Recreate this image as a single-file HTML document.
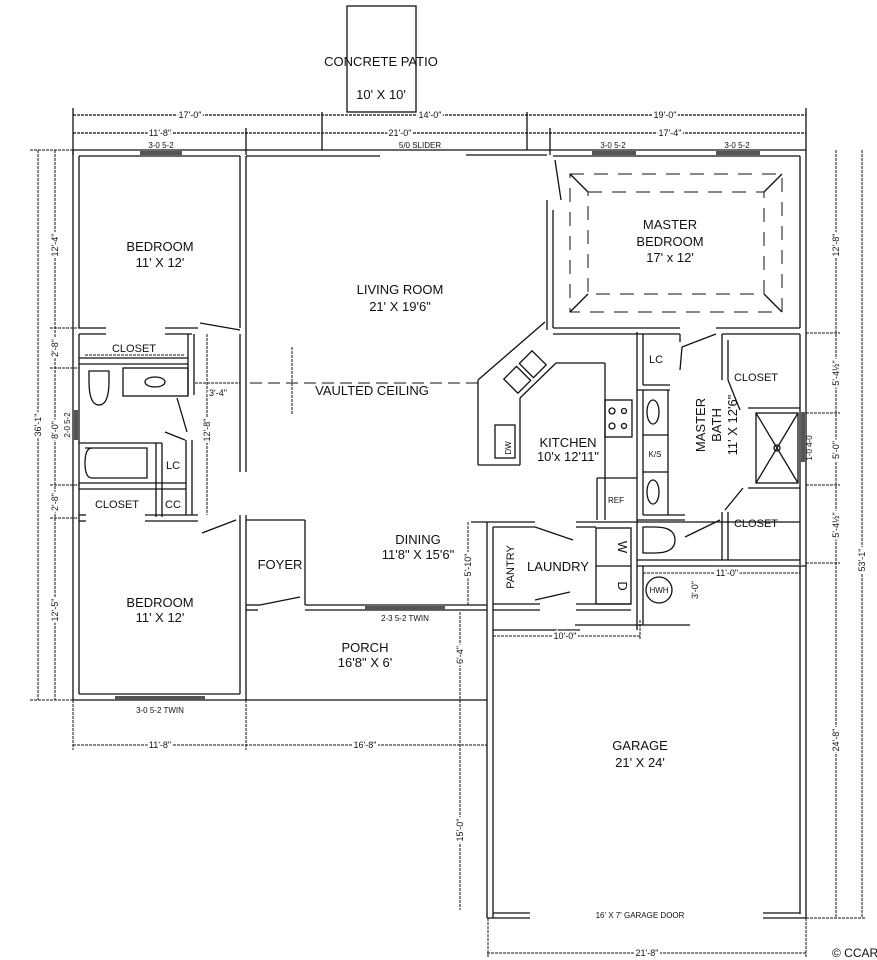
<!DOCTYPE html>
<html><head><meta charset="utf-8"><style>
html,body{margin:0;padding:0;background:#fff}
svg{display:block}
text{font-family:"Liberation Sans",sans-serif;fill:#111}
.r{font-size:13px;text-anchor:middle}
.s{font-size:8px;text-anchor:middle}
.d{font-size:9px;text-anchor:middle;stroke:#fff;stroke-width:4px;paint-order:stroke;stroke-dasharray:none}
</style></head><body>
<svg width="877" height="960" viewBox="0 0 877 960" xmlns="http://www.w3.org/2000/svg">
<g stroke="#111" fill="none" stroke-width="1.3">
<rect x="347" y="6" width="69" height="106" fill="#fff"/>
<line x1="73" y1="115" x2="806" y2="115" stroke-dasharray="3 1"/>
<line x1="73" y1="133" x2="806" y2="133" stroke-dasharray="3 1"/>
<line x1="73" y1="108" x2="73" y2="155"/><line x1="322" y1="112" x2="322" y2="150"/>
<line x1="527" y1="112" x2="527" y2="150"/><line x1="806" y1="108" x2="806" y2="150"/>
<line x1="246" y1="128" x2="246" y2="155"/><line x1="550" y1="128" x2="550" y2="155"/>
<line x1="73" y1="150" x2="806" y2="150"/>
<line x1="79" y1="156" x2="240" y2="156"/>
<line x1="246" y1="156" x2="380" y2="156"/><line x1="466" y1="155" x2="547" y2="155"/>
<line x1="553" y1="156" x2="800" y2="156"/>
<line x1="73" y1="150" x2="73" y2="700"/><line x1="79" y1="156" x2="79" y2="328"/>
<line x1="79" y1="334" x2="79" y2="694"/>
<line x1="806" y1="150" x2="806" y2="918"/><line x1="800" y1="156" x2="800" y2="328"/>
<line x1="800" y1="334" x2="800" y2="565"/>
<line x1="73" y1="700" x2="487" y2="700"/><line x1="79" y1="694" x2="240" y2="694"/>
<line x1="240" y1="156" x2="240" y2="328"/><line x1="246" y1="156" x2="246" y2="472"/>
<line x1="240" y1="334" x2="240" y2="472"/>
<line x1="79" y1="328" x2="106" y2="328"/><line x1="79" y1="334" x2="106" y2="334"/>
<line x1="165" y1="328" x2="198" y2="328"/><line x1="165" y1="334" x2="192" y2="334"/>
<line x1="200" y1="323" x2="240" y2="330"/>
<line x1="79" y1="358" x2="188" y2="358"/><line x1="79" y1="364" x2="188" y2="364"/>
<line x1="188" y1="334" x2="188" y2="395"/><line x1="194" y1="334" x2="194" y2="395"/>
<rect x="123" y="368" width="65" height="28"/><ellipse cx="155" cy="382" rx="10" ry="5"/>
<path d="M89 371 h20 v10 q0 24 -10 24 q-10 0 -10 -24 z"/>
<line x1="177" y1="398" x2="187" y2="432"/><line x1="165" y1="432" x2="185" y2="440"/>
<line x1="186" y1="440" x2="186" y2="515"/><line x1="192" y1="440" x2="192" y2="515"/>
<line x1="79" y1="443" x2="162" y2="443"/><line x1="79" y1="483" x2="186" y2="483"/>
<line x1="79" y1="489" x2="186" y2="489"/>
<line x1="156" y1="443" x2="156" y2="517"/><line x1="162" y1="443" x2="162" y2="517"/>
<path d="M85 448 h62 v30 h-55 q-7 0 -7 -15 q0 -15 7 -15"/>
<line x1="79" y1="515" x2="86" y2="515"/><line x1="79" y1="521" x2="86" y2="521"/>
<line x1="145" y1="515" x2="198" y2="515"/><line x1="145" y1="521" x2="198" y2="521"/>
<line x1="240" y1="515" x2="240" y2="694"/><line x1="246" y1="515" x2="246" y2="700"/>
<line x1="202" y1="533" x2="236" y2="520"/>
<line x1="246" y1="520" x2="305" y2="520"/><line x1="305" y1="520" x2="305" y2="605"/>
<line x1="246" y1="605" x2="260" y2="605"/><line x1="246" y1="610" x2="258" y2="610"/>
<line x1="260" y1="605" x2="300" y2="597"/>
<line x1="305" y1="605" x2="487" y2="605"/><line x1="305" y1="610" x2="487" y2="610"/>
<line x1="471" y1="522" x2="535" y2="522"/><line x1="487" y1="522" x2="487" y2="918"/>
<line x1="493" y1="527" x2="493" y2="918"/><line x1="493" y1="527" x2="535" y2="527"/>
<line x1="535" y1="527" x2="573" y2="540"/><line x1="535" y1="600" x2="570" y2="592"/>
<line x1="493" y1="604" x2="540" y2="604"/><line x1="493" y1="610" x2="540" y2="610"/>
<line x1="576" y1="522" x2="800" y2="522"/><line x1="576" y1="527" x2="596" y2="527"/>
<rect x="596" y="528" width="35" height="76"/><line x1="596" y1="566" x2="631" y2="566"/>
<line x1="576" y1="604" x2="631" y2="604"/><line x1="576" y1="610" x2="631" y2="610"/>
<line x1="547" y1="200" x2="547" y2="330"/><line x1="553" y1="210" x2="553" y2="328"/>
<line x1="555" y1="160" x2="561" y2="200"/>
<line x1="553" y1="328" x2="680" y2="328"/><line x1="553" y1="334" x2="680" y2="334"/>
<line x1="716" y1="328" x2="800" y2="328"/><line x1="722" y1="334" x2="800" y2="334"/>
<line x1="545" y1="322" x2="478" y2="380"/><line x1="478" y1="380" x2="478" y2="465"/>
<line x1="478" y1="465" x2="520" y2="465"/><line x1="520" y1="465" x2="520" y2="398"/>
<line x1="520" y1="398" x2="556" y2="363"/><line x1="556" y1="363" x2="605" y2="363"/>
<line x1="605" y1="363" x2="605" y2="520"/><line x1="597" y1="478" x2="637" y2="478"/>
<line x1="597" y1="478" x2="597" y2="520"/>
<rect x="605" y="400" width="27" height="37"/>
<circle cx="612" cy="411" r="3"/><circle cx="624" cy="411" r="2.5"/><circle cx="612" cy="426" r="3"/><circle cx="624" cy="426" r="2.5"/>
<g transform="rotate(-45 525 372)"><rect x="505" y="362" width="18" height="20"/><rect x="527" y="362" width="18" height="20"/></g>
<rect x="495" y="425" width="20" height="33"/>
<line x1="637" y1="332" x2="637" y2="520"/><line x1="643" y1="334" x2="643" y2="385"/>
<line x1="643" y1="385" x2="670" y2="385"/><line x1="637" y1="390" x2="670" y2="390"/>
<line x1="643" y1="390" x2="643" y2="515"/><line x1="668" y1="390" x2="668" y2="515"/>
<line x1="643" y1="435" x2="668" y2="435"/><line x1="643" y1="472" x2="668" y2="472"/>
<ellipse cx="653" cy="412" rx="6" ry="12"/><ellipse cx="653" cy="492" rx="6" ry="12"/>
<line x1="643" y1="515" x2="685" y2="515"/><line x1="637" y1="520" x2="685" y2="520"/>
<line x1="680" y1="334" x2="680" y2="342"/><line x1="682" y1="347" x2="680" y2="370"/>
<line x1="682" y1="347" x2="716" y2="334"/>
<line x1="722" y1="334" x2="722" y2="380"/><line x1="728" y1="340" x2="728" y2="380"/>
<line x1="728" y1="380" x2="740" y2="410"/>
<rect x="756" y="413" width="42" height="70"/><line x1="756" y1="413" x2="798" y2="483"/><line x1="798" y1="413" x2="756" y2="483"/>
<circle cx="777" cy="448" r="3"/>
<line x1="748" y1="408" x2="800" y2="408"/><line x1="748" y1="488" x2="800" y2="488"/>
<line x1="743" y1="488" x2="725" y2="510"/>
<line x1="722" y1="512" x2="722" y2="560"/><line x1="728" y1="512" x2="728" y2="560"/>
<line x1="685" y1="537" x2="720" y2="520"/>
<path d="M643 527 h12 q20 0 20 13 q0 13 -20 13 h-12 z"/>
<line x1="637" y1="560" x2="800" y2="560"/><line x1="637" y1="566" x2="806" y2="566"/>
<line x1="637" y1="520" x2="637" y2="630"/><line x1="643" y1="566" x2="643" y2="625"/>
<circle cx="659" cy="590" r="13"/>
<line x1="575" y1="625" x2="690" y2="625"/><line x1="493" y1="630" x2="580" y2="630"/>
<line x1="800" y1="566" x2="800" y2="914"/>
<line x1="487" y1="918" x2="530" y2="918"/><line x1="493" y1="913" x2="530" y2="913"/>
<line x1="763" y1="913" x2="800" y2="913"/><line x1="763" y1="918" x2="806" y2="918"/>
<g stroke-dasharray="3 1" stroke-width="1">
<line x1="38" y1="150" x2="38" y2="700"/><line x1="55" y1="150" x2="55" y2="700"/>
<line x1="30" y1="150" x2="73" y2="150"/><line x1="50" y1="328" x2="79" y2="328"/>
<line x1="50" y1="368" x2="79" y2="368"/><line x1="50" y1="485" x2="79" y2="485"/>
<line x1="50" y1="518" x2="79" y2="518"/><line x1="30" y1="700" x2="73" y2="700"/>
<line x1="836" y1="150" x2="836" y2="918"/><line x1="862" y1="150" x2="862" y2="918"/>
<line x1="806" y1="333" x2="840" y2="333"/><line x1="806" y1="413" x2="840" y2="413"/>
<line x1="806" y1="485" x2="840" y2="485"/><line x1="806" y1="563" x2="840" y2="563"/>
<line x1="806" y1="918" x2="866" y2="918"/>
<line x1="73" y1="745" x2="487" y2="745"/><line x1="73" y1="700" x2="73" y2="750"/>
<line x1="246" y1="700" x2="246" y2="750"/>
<line x1="487" y1="953" x2="806" y2="953"/><line x1="488" y1="918" x2="488" y2="958"/><line x1="806" y1="918" x2="806" y2="958"/>
<line x1="493" y1="636" x2="640" y2="636"/><line x1="640" y1="620" x2="640" y2="640"/>
<line x1="643" y1="573" x2="800" y2="573"/><line x1="468" y1="522" x2="468" y2="605"/>
<line x1="460" y1="612" x2="460" y2="700"/><line x1="460" y1="700" x2="460" y2="910"/>
<line x1="207" y1="334" x2="207" y2="515"/><line x1="195" y1="383" x2="240" y2="383"/>
<line x1="85" y1="355" x2="185" y2="355"/>
<line x1="250" y1="383" x2="480" y2="383" stroke-dasharray="12 6"/>
<line x1="292" y1="347" x2="292" y2="415"/>
</g>
<g stroke-dasharray="14 10" stroke-width="1">
<rect x="570" y="174" width="212" height="138"/><rect x="588" y="192" width="176" height="102"/>
</g>
<line x1="570" y1="174" x2="588" y2="192"/><line x1="782" y1="174" x2="764" y2="192"/>
<line x1="570" y1="312" x2="588" y2="294"/><line x1="782" y1="312" x2="764" y2="294"/>
</g>
<g fill="#555">
<rect x="140" y="151" width="42" height="4"/><rect x="592" y="151" width="44" height="4"/>
<rect x="716" y="151" width="44" height="4"/><rect x="115" y="696" width="90" height="4"/>
<rect x="365" y="606" width="80" height="4"/><rect x="74" y="410" width="4" height="30"/>
<rect x="801" y="412" width="4" height="50"/>
</g>
<text class="r" x="381" y="66">CONCRETE PATIO</text>
<text class="r" x="381" y="99">10' X 10'</text>
<text class="d" x="190" y="118">17'-0"</text><text class="d" x="430" y="118">14'-0"</text><text class="d" x="665" y="118">19'-0"</text>
<text class="d" x="160" y="136">11'-8"</text><text class="d" x="400" y="136">21'-0"</text><text class="d" x="670" y="136">17'-4"</text>
<text class="s" x="161" y="148">3-0 5-2</text><text class="s" x="420" y="148">5/0 SLIDER</text>
<text class="s" x="613" y="148">3-0 5-2</text><text class="s" x="737" y="148">3-0 5-2</text>
<text class="r" x="160" y="251">BEDROOM</text><text class="r" x="160" y="267">11' X 12'</text>
<text class="r" x="400" y="294">LIVING ROOM</text><text class="r" x="400" y="311">21' X  19'6"</text>
<text class="r" x="372" y="395">VAULTED CEILING</text>
<text class="r" x="670" y="229">MASTER</text><text class="r" x="670" y="246">BEDROOM</text><text class="r" x="670" y="262">17' x 12'</text>
<text class="r" x="134" y="352" style="font-size:11px">CLOSET</text>
<text class="d" x="218" y="396">3'-4"</text>
<text class="r" x="173" y="469" style="font-size:11px">LC</text>
<text class="r" x="117" y="508" style="font-size:11px">CLOSET</text>
<text class="r" x="173" y="508" style="font-size:11px">CC</text>
<text class="r" x="280" y="569">FOYER</text>
<text class="r" x="160" y="607">BEDROOM</text><text class="r" x="160" y="622">11' X 12'</text>
<text class="s" x="160" y="713">3-0 5-2 TWIN</text>
<text class="s" x="405" y="621">2-3 5-2 TWIN</text>
<text class="r" x="365" y="652">PORCH</text><text class="r" x="365" y="667">16'8" X 6'</text>
<text class="r" x="418" y="544">DINING</text><text class="r" x="418" y="559">11'8" X 15'6"</text>
<text class="r" x="558" y="571">LAUNDRY</text>
<text class="r" x="568" y="447">KITCHEN</text><text class="r" x="568" y="461">10'x 12'11"</text>
<text class="r" x="656" y="363" style="font-size:11px">LC</text>
<text class="r" x="756" y="381" style="font-size:11px">CLOSET</text>
<text class="r" x="756" y="527" style="font-size:11px">CLOSET</text>
<text class="s" x="616" y="503">REF</text><text class="s" x="655" y="457">K/S</text><text class="s" x="659" y="593">HWH</text>
<text class="r" x="640" y="750">GARAGE</text><text class="r" x="640" y="767">21' X 24'</text>
<text class="s" x="640" y="918">16' X 7' GARAGE DOOR</text>
<text class="d" x="160" y="748">11'-8"</text><text class="d" x="365" y="748">16'-8"</text>
<text class="d" x="565" y="639">10'-0"</text><text class="d" x="727" y="576">11'-0"</text>
<text class="d" x="647" y="956">21'-8"</text>
<text x="832" y="957" style="font-size:12px">© CCAR</text>
<text transform="translate(41,425) rotate(-90)" class="d">36'-1"</text>
<text transform="translate(58,245) rotate(-90)" class="d">12'-4"</text>
<text transform="translate(58,348) rotate(-90)" class="d">2'-8"</text>
<text transform="translate(58,430) rotate(-90)" class="d">8'-0"</text>
<text transform="translate(58,502) rotate(-90)" class="d">2'-8"</text>
<text transform="translate(58,610) rotate(-90)" class="d">12'-5"</text>
<text transform="translate(210,430) rotate(-90)" class="d">12'-8"</text>
<text transform="translate(839,245) rotate(-90)" class="d">12'-8"</text>
<text transform="translate(839,373) rotate(-90)" class="d">5'-4½"</text>
<text transform="translate(839,450) rotate(-90)" class="d">5'-0"</text>
<text transform="translate(839,525) rotate(-90)" class="d">5'-4½"</text>
<text transform="translate(839,740) rotate(-90)" class="d">24'-8"</text>
<text transform="translate(865,560) rotate(-90)" class="d">53'-1"</text>
<text transform="translate(471,565) rotate(-90)" class="d">5'-10"</text>
<text transform="translate(463,655) rotate(-90)" class="d">6'-4"</text>
<text transform="translate(463,830) rotate(-90)" class="d">15'-0"</text>
<text transform="translate(698,590) rotate(-90)" class="d">3'-0"</text>
<text transform="translate(812,448) rotate(-90)" class="s">1-0 4-0</text>
<text transform="translate(70,425) rotate(-90)" class="s">2-0 5-2</text>
<text transform="translate(511,448) rotate(-90)" class="s">DW</text>
<text transform="translate(514,567) rotate(-90)" class="r" style="font-size:11px">PANTRY</text>
<text transform="translate(705,425) rotate(-90)" class="r">MASTER</text>
<text transform="translate(721,425) rotate(-90)" class="r">BATH</text>
<text transform="translate(737,425) rotate(-90)" class="r">11' X 12'6"</text>
<text transform="translate(618,547) rotate(90)" class="r">W</text>
<text transform="translate(618,586) rotate(90)" class="r">D</text>
</svg>
</body></html>
